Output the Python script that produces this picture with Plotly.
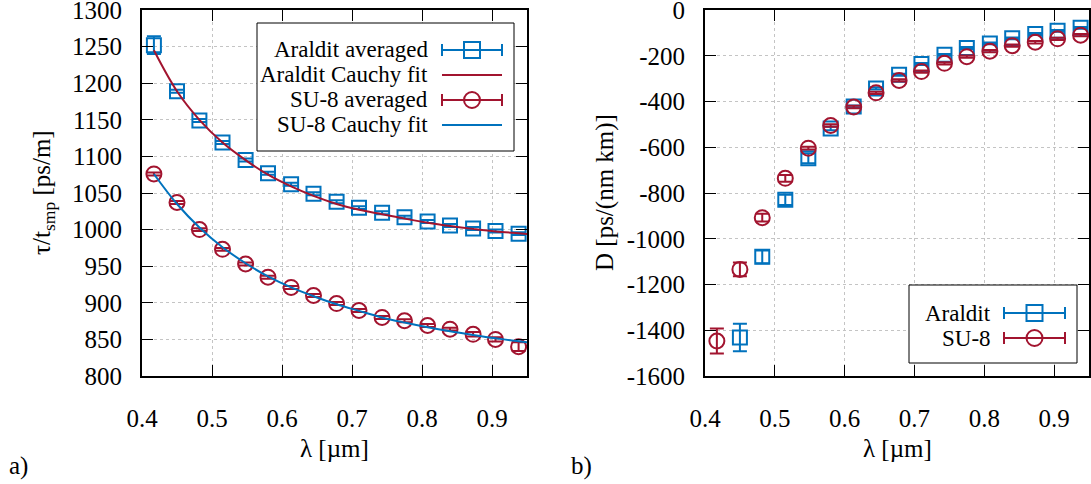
import plotly.graph_objects as go

W, H = 1091, 484
FONT = "Liberation Serif"
BLUE = "#0072BD"
RED = "#A2142F"

# ---------------- data ----------------
lam = [0.417, 0.450, 0.482, 0.515, 0.548, 0.580, 0.613, 0.645, 0.678,
       0.710, 0.743, 0.775, 0.808, 0.840, 0.873, 0.905, 0.938]

tau_araldit = [1252, 1189, 1149, 1119, 1095, 1077, 1062, 1049, 1038,
               1030, 1023, 1017, 1011, 1005.5, 1001.5, 998, 994.5]
tau_araldit_err = [12, 2, 2, 2, 2, 2, 2, 2, 2, 2, 2, 2, 2, 2, 2, 2, 2]
tau_su8 = [1076, 1037, 1000, 973, 953, 935, 921, 910, 899,
           889.5, 880, 875.5, 869, 864, 857, 850, 840]
tau_su8_err = [2, 2, 2, 2, 2, 2, 2, 2, 2, 2, 2, 2, 2, 2, 3, 3, 6]

fit_lam = [0.417, 0.450, 0.482, 0.515, 0.548, 0.580, 0.613, 0.645, 0.678,
           0.710, 0.743, 0.775, 0.808, 0.840, 0.873, 0.905, 0.938, 0.950]
fit_araldit = [1245, 1189, 1150, 1119, 1095, 1075, 1059, 1046, 1035,
               1027, 1021, 1015, 1009.5, 1005, 1001, 997.5, 995, 994]
fit_su8 = [1076, 1035, 1003, 976, 954, 936, 921, 909, 898,
           889, 880, 873, 866.5, 861, 856, 851.5, 847.5, 846]

lam_d_araldit = [0.450, 0.482, 0.515, 0.548, 0.580, 0.613, 0.645, 0.678,
                 0.710, 0.743, 0.775, 0.808, 0.840, 0.873, 0.905, 0.938]
D_araldit = [-1432, -1079, -830, -648, -518, -422, -343, -283,
             -236, -196, -166, -146, -124, -105, -91, -78]
D_araldit_err = [60, 28, 22, 22, 8, 5, 5, 4, 4, 4, 4, 4, 4, 4, 4, 4]

lam_d_su8 = [0.417, 0.450, 0.482, 0.515, 0.548, 0.580, 0.613, 0.645, 0.678,
             0.710, 0.743, 0.775, 0.808, 0.840, 0.873, 0.905, 0.938]
D_su8 = [-1447, -1134, -908, -736, -604, -505, -424, -362, -308,
         -269, -233, -204, -180, -156, -141, -126, -110]
D_su8_err = [55, 30, 17, 15, 6, 5, 5, 5, 5, 5, 5, 5, 5, 5, 5, 5, 5]

x_ticks = [0.4, 0.5, 0.6, 0.7, 0.8, 0.9]
x_ticktext = ["0.4", "0.5", "0.6", "0.7", "0.8", "0.9"]
tau_ticks = [800, 850, 900, 950, 1000, 1050, 1100, 1150, 1200, 1250, 1300]
D_ticks = [-1600, -1400, -1200, -1000, -800, -600, -400, -200, 0]
D_ticktext = ["-1600", "-1400", "-1200", "-1000", "-800", "-600", "-400", "-200", "0"]


def PX(x):
    return x / W


def PY(y):
    return 1 - y / H


fig = go.Figure()

# ---------------- left panel ----------------
fig.add_trace(go.Scatter(
    x=lam, y=tau_araldit, mode="markers", xaxis="x", yaxis="y",
    marker=dict(symbol="square-open", size=14, color=BLUE, line=dict(width=2, color=BLUE)),
    error_y=dict(type="data", array=tau_araldit_err, color=BLUE, thickness=2, width=7),
    showlegend=False))
fig.add_trace(go.Scatter(
    x=fit_lam, y=fit_araldit, mode="lines", xaxis="x", yaxis="y",
    line=dict(color=RED, width=2, shape="spline"), showlegend=False))
fig.add_trace(go.Scatter(
    x=lam, y=tau_su8, mode="markers", xaxis="x", yaxis="y",
    marker=dict(symbol="circle-open", size=15, color=RED, line=dict(width=2, color=RED)),
    error_y=dict(type="data", array=tau_su8_err, color=RED, thickness=2, width=7),
    showlegend=False))
fig.add_trace(go.Scatter(
    x=fit_lam, y=fit_su8, mode="lines", xaxis="x", yaxis="y",
    line=dict(color=BLUE, width=2, shape="spline"), showlegend=False))

# ---------------- right panel ----------------
fig.add_trace(go.Scatter(
    x=lam_d_araldit, y=D_araldit, mode="markers", xaxis="x2", yaxis="y2",
    marker=dict(symbol="square-open", size=14, color=BLUE, line=dict(width=2, color=BLUE)),
    error_y=dict(type="data", array=D_araldit_err, color=BLUE, thickness=2, width=7),
    showlegend=False))
fig.add_trace(go.Scatter(
    x=lam_d_su8, y=D_su8, mode="markers", xaxis="x2", yaxis="y2",
    marker=dict(symbol="circle-open", size=15, color=RED, line=dict(width=2, color=RED)),
    error_y=dict(type="data", array=D_su8_err, color=RED, thickness=2, width=7),
    showlegend=False))

tickfont = dict(family=FONT, size=25, color="black")
common_axis = dict(
    showline=True, linecolor="black", linewidth=2, mirror="ticks",
    ticks="inside", ticklen=11, tickwidth=1, tickcolor="black",
    showgrid=True, gridcolor="#c4c4c4", griddash="dot", gridwidth=1,
    zeroline=False, tickfont=tickfont, automargin=False,
    ticklabeloverflow="allow",
)

y_dom = [PY(376), PY(10)]
fig.update_layout(
    width=W, height=H,
    margin=dict(l=0, r=0, t=0, b=0),
    paper_bgcolor="white", plot_bgcolor="white",
    font=dict(family=FONT, size=25, color="black"),
    xaxis=dict(domain=[PX(142), PX(527)], range=[0.4, 0.95], anchor="y",
               tickmode="array", tickvals=x_ticks, ticktext=x_ticktext,
               ticklabelstandoff=19, **common_axis),
    yaxis=dict(domain=y_dom, range=[800, 1300], anchor="x",
               tickmode="array", tickvals=tau_ticks,
               ticklabelstandoff=13, **common_axis),
    xaxis2=dict(domain=[PX(705), PX(1089)], range=[0.4, 0.95], anchor="y2",
                tickmode="array", tickvals=x_ticks, ticktext=x_ticktext,
                ticklabelstandoff=19, **common_axis),
    yaxis2=dict(domain=y_dom, range=[-1600, 0], anchor="x2",
                tickmode="array", tickvals=D_ticks, ticktext=D_ticktext,
                ticklabelstandoff=13, **common_axis),
)

# ---------------- titles & panel labels ----------------
ann = []
tfont = dict(family=FONT, size=25, color="black")
ann.append(dict(text="λ [µm]", x=PX(334.5), y=PY(448), xref="paper", yref="paper",
                showarrow=False, font=tfont, xanchor="center", yanchor="middle"))
ann.append(dict(text="λ [µm]", x=PX(897), y=PY(448), xref="paper", yref="paper",
                showarrow=False, font=tfont, xanchor="center", yanchor="middle"))
ann.append(dict(text="τ/t<sub>smp</sub> [ps/m]", x=PX(44), y=PY(193), xref="paper", yref="paper",
                showarrow=False, font=tfont, textangle=-90, xanchor="center", yanchor="middle"))
ann.append(dict(text="D [ps/(nm km)]", x=PX(605), y=PY(193), xref="paper", yref="paper",
                showarrow=False, font=tfont, textangle=-90, xanchor="center", yanchor="middle"))
ann.append(dict(text="a)", x=PX(7), y=PY(466), xref="paper", yref="paper",
                showarrow=False, font=tfont, xanchor="left", yanchor="middle"))
ann.append(dict(text="b)", x=PX(569), y=PY(466), xref="paper", yref="paper",
                showarrow=False, font=tfont, xanchor="left", yanchor="middle"))

# ---------------- legends (gnuplot style: text left, sample right) ----------------
shapes = []
lfont = dict(family=FONT, size=23, color="black")


def legend_box(x0, y0, x1, y1):
    shapes.append(dict(type="rect", xref="paper", yref="paper",
                       x0=PX(x0), x1=PX(x1), y0=PY(y1), y1=PY(y0),
                       line=dict(color="black", width=1), fillcolor="white", layer="above"))


def legend_entry(label, ytext, xtext, xs0, xs1, color, kind):
    ann.append(dict(text=label, x=PX(xtext), y=PY(ytext), xref="paper", yref="paper",
                    showarrow=False, font=lfont, xanchor="right", yanchor="middle"))
    shapes.append(dict(type="line", xref="paper", yref="paper",
                       x0=PX(xs0), x1=PX(xs1), y0=PY(ytext), y1=PY(ytext),
                       line=dict(color=color, width=2), layer="above"))
    if kind in ("square", "circle"):
        for xc in (xs0, xs1):
            shapes.append(dict(type="line", xref="paper", yref="paper",
                               x0=PX(xc), x1=PX(xc), y0=PY(ytext - 6), y1=PY(ytext + 6),
                               line=dict(color=color, width=2), layer="above"))
        xm = (xs0 + xs1) / 2
        shapes.append(dict(type="rect" if kind == "square" else "circle",
                           xref="paper", yref="paper",
                           x0=PX(xm - 8), x1=PX(xm + 8), y0=PY(ytext + 8), y1=PY(ytext - 8),
                           line=dict(color=color, width=2), fillcolor="rgba(0,0,0,0)",
                           layer="above"))


legend_box(257, 23, 514, 151)
legend_entry("Araldit averaged", 50, 430, 442, 502, BLUE, "square")
legend_entry("Araldit Cauchy fit", 75, 430, 442, 502, RED, "line")
legend_entry("SU-8 averaged", 100, 430, 442, 502, RED, "circle")
legend_entry("SU-8 Cauchy fit", 125, 430, 442, 502, BLUE, "line")

legend_box(909, 285, 1077, 363)
legend_entry("Araldit", 313, 993, 1004, 1065, BLUE, "square")
legend_entry("SU-8", 338, 993, 1004, 1065, RED, "circle")

fig.update_layout(annotations=ann, shapes=shapes)

fig.write_html(
    "out.html",
    config={"displayModeBar": False},
    post_script="document.body.style.margin='0';document.body.style.overflow='hidden';",
)
